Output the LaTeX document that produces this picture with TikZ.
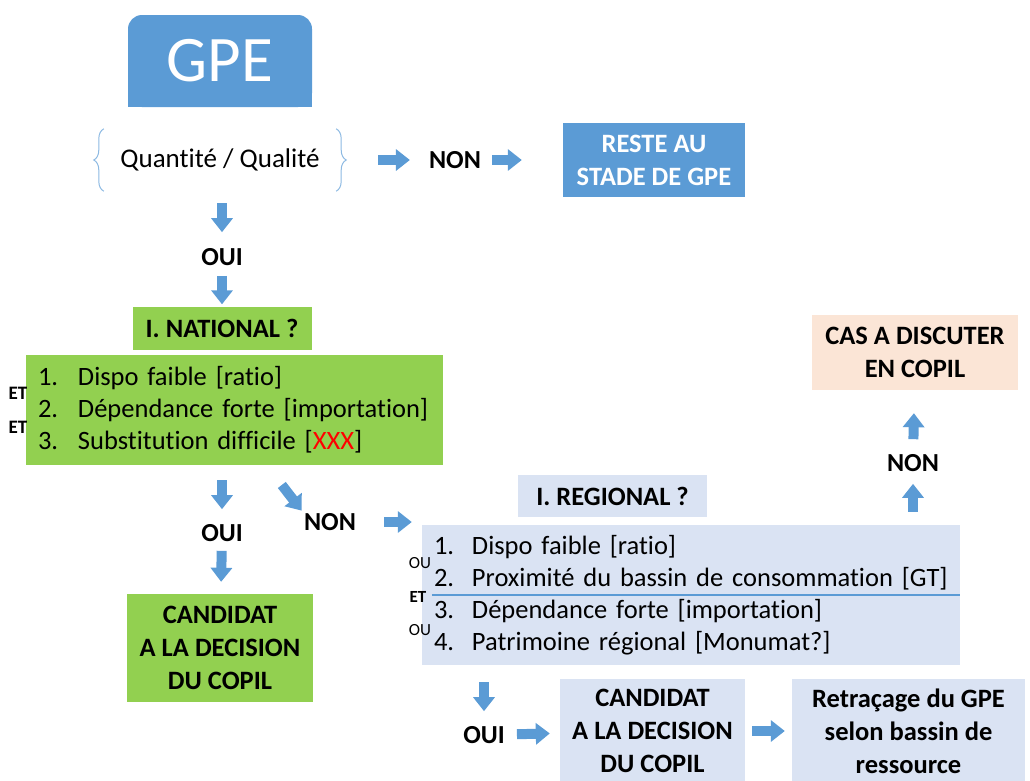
\documentclass[tikz,border=0pt]{standalone}
\usepackage{fontspec}
\setmainfont{Carlito}[Ligatures=NoCommon]
\usetikzlibrary{positioning,arrows.meta,decorations.pathreplacing,backgrounds}
\definecolor{gpeblue}{HTML}{5B9BD5}
\definecolor{natgreen}{HTML}{92D050}
\definecolor{regblue}{HTML}{DAE3F3}
\definecolor{caspeach}{HTML}{FBE5D6}
\definecolor{xxxred}{HTML}{FF0000}

\begin{document}
\begin{tikzpicture}[x=1pt,y=-1pt,
  box/.style={inner sep=0pt, align=center, font=\fontsize{26.5}{33}\selectfont\bfseries},
  lbl/.style={inner sep=1pt, font=\fontsize{26}{28}\selectfont\bfseries},
  tiny/.style={inner sep=0pt, font=\fontsize{17}{17}\selectfont},
  tinyb/.style={inner sep=0pt, font=\fontsize{19}{19}\selectfont\bfseries},
  list/.style={inner xsep=12pt, inner ysep=0pt, align=left, font=\fontsize{26.5}{32}\selectfont},
  flow/.style={draw=gpeblue, line width=10pt, -{Triangle[length=14pt,width=21pt]}}]
\useasboundingbox (0,0) rectangle (1030,780);

% top: GPE and first question
\node[box, fill=gpeblue, text=white, rounded corners=14pt, minimum width=184pt, minimum height=92pt, font=\fontsize{65}{65}\selectfont] (gpe) at (220,61) {GPE};
\begin{scope}[on background layer]
\fill[gpeblue] (gpe.south west) rectangle (gpe.east);
\end{scope}
\node[inner sep=0pt, minimum width=232pt, minimum height=62pt, font=\fontsize{27}{30}\selectfont] (quant) at (220,160) {Quantité / Qualité};
\draw[gpeblue!70, line width=1pt, decorate, decoration={brace, amplitude=10pt}] (quant.south west) -- (quant.north west);
\draw[gpeblue!70, line width=1pt, decorate, decoration={brace, amplitude=10pt}] (quant.north east) -- (quant.south east);
\node[lbl] (non1) at (455,160) {NON};
\node[box, fill=gpeblue, text=white, minimum width=182pt, minimum height=74pt] (reste) at (654,160) {RESTE AU\\STADE DE GPE};
\node[lbl] (oui1) at (222,257) {OUI};

% national level
\node[box, fill=natgreen, minimum width=179pt, minimum height=43pt] (natq) at (222,328) {I. NATIONAL ?};
\node[list, fill=natgreen, text width=393pt, minimum height=110pt] (natl) at (234.5,410) {\makebox[40pt][l]{1.}Dispo faible [ratio]\\\makebox[40pt][l]{2.}Dépendance forte [importation]\\\makebox[40pt][l]{3.}Substitution difficile [{\color{xxxred}XXX}]};
\node[tinyb] (et1) at (18,393) {ET};
\node[tinyb] (et2) at (18,427) {ET};
\node[lbl] (oui2) at (222,533) {OUI};
\node[box, fill=natgreen, minimum width=186pt, minimum height=108pt] (cand1) at (220,648) {CANDIDAT\\A LA DECISION\\DU COPIL};
\node[lbl] (non2) at (330,522) {NON};

% regional level
\node[box, fill=regblue, minimum width=189pt, minimum height=42pt] (regq) at (612.5,496) {I. REGIONAL ?};
\node[list, fill=regblue, text width=514pt, minimum height=140pt] (regl) at (691,595) {\makebox[38pt][l]{1.}Dispo faible [ratio]\\\makebox[38pt][l]{2.}Proximité du bassin de consommation [GT]\\\makebox[38pt][l]{3.}Dépendance forte [importation]\\\makebox[38pt][l]{4.}Patrimoine régional [Monumat?]};
\draw[gpeblue, line width=1.2pt] ([xshift=10pt]regl.west) -- (regl.east);
\node[tiny] (ou1) at (420,563) {OU};
\node[tinyb, font=\fontsize{17}{17}\selectfont\bfseries] (et3) at (418,597) {ET};
\node[tiny] (ou2) at (420,630) {OU};
\node[lbl] (oui3) at (484,735) {OUI};
\node[box, fill=regblue, minimum width=185pt, minimum height=104pt] (cand2) at (652.5,731) {CANDIDAT\\A LA DECISION\\DU COPIL};
\node[box, fill=regblue, minimum width=233pt, minimum height=104pt] (retr) at (908.5,731) {Retraçage du GPE\\selon bassin de\\ressource};
\node[lbl] (non3) at (913,463) {NON};
\node[box, fill=caspeach, minimum width=206pt, minimum height=75pt] (cas) at (915,352.5) {CAS A DISCUTER\\EN COPIL};

% block arrows
\draw[flow, shorten <=42pt, shorten >=18pt] (quant) -- (non1);
\draw[flow, shorten <=10pt, shorten >=41pt] (non1) -- (reste);
\draw[flow, shorten <=12pt, shorten >=15pt] (quant.south -| oui1) -- (oui1);
\draw[flow, shorten <=9pt, shorten >=2pt] (oui1) -- (natq);
\draw[flow, shorten <=15pt, shorten >=14pt] (natl.south -| oui2) -- (oui2);
\draw[flow, shorten <=8pt, shorten >=12pt] (oui2) -- (cand1);
\draw[flow, shorten <=25pt, shorten >=2pt] ([xshift=32pt]natl.south) -- (non2.north west);
\draw[flow, shorten <=27pt, shorten >=10pt] (non2) -- (non2 -| regl.west);
\draw[flow, shorten <=17pt, shorten >=14pt] (regl.south -| oui3) -- (oui3);
\draw[flow, shorten <=11pt, shorten >=10pt] (oui3) -- (cand2);
\draw[flow, shorten <=7pt, shorten >=7pt] (cand2) -- (retr);
\draw[flow, shorten <=13pt, shorten >=11pt] (regl.north -| non3) -- (non3);
\draw[flow, shorten <=14pt, shorten >=23pt] (non3) -- (cas);
\end{tikzpicture}
\end{document}
